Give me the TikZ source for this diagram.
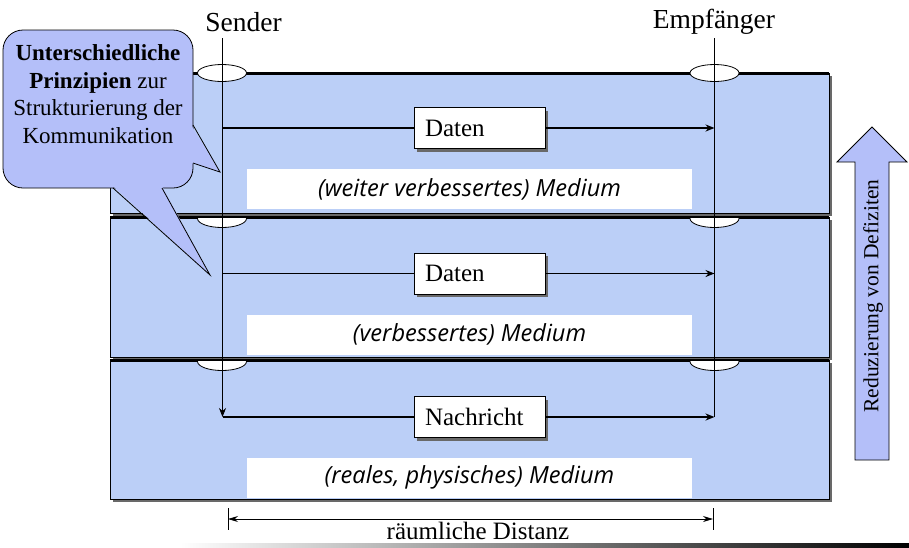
\documentclass[tikz,border=0pt]{standalone}
\usepackage{fontspec}
\setmainfont{Liberation Serif}
\newfontfamily\medfont{Open Sans}
\usetikzlibrary{arrows.meta,shadows}
\definecolor{layerblue}{RGB}{187,207,247}
\definecolor{callblue}{RGB}{180,191,249}
\definecolor{shadowgray}{RGB}{105,105,105}
\tikzset{
  layerbox/.style={draw=black, line width=0.8pt, fill=layerblue},
  layershadow/.style={fill=shadowgray},
  msgbox/.style={draw=black, line width=0.8pt, fill=white, minimum height=41pt,
    text width=109pt, inner xsep=11pt, inner ysep=0pt, align=left,
    font=\fontsize{25}{30}\selectfont,
    drop shadow={shadow xshift=3pt, shadow yshift=-3pt, fill=shadowgray, opacity=1}},
  medbox/.style={fill=white, minimum width=445pt, minimum height=40pt, inner sep=0pt,
    font=\medfont\itshape\fontsize{23.6}{28}\selectfont},
  flow/.style={line width=1.8pt},
  flowtip/.style={-{Stealth[length=9pt,width=7pt]}},
  port/.style={draw=black, line width=0.8pt, fill=white},
  titletext/.style={font=\fontsize{27.5}{32}\selectfont, inner sep=0pt},
  callout/.style={draw=black, line width=0.8pt, fill=callblue}
}
\begin{document}
\begin{tikzpicture}[x=1pt,y=-1pt]
\useasboundingbox (0,0) rectangle (909,547);

% layers
\foreach \t/\b in {73/213, 217/357, 360/499}{
  \fill[layershadow] (113,\t+3) rectangle (832,\b+3);
  \draw[layerbox] (110,\t) rectangle (829,\b);
  \draw[line width=3pt] (110,\t) -- (829,\t);
}
% ports (ellipses)
\draw[port] (222,73) ellipse [x radius=24.5pt, y radius=8.5pt];
\draw[port] (714.5,73) ellipse [x radius=24.5pt, y radius=8.5pt];
\foreach \t in {218.5, 361.5}{
  \begin{scope}
    \clip (180,\t) rectangle (760,\t+20);
    \draw[port] (222,\t) ellipse [x radius=24.5pt, y radius=9pt];
    \draw[port] (714.5,\t) ellipse [x radius=24.5pt, y radius=9pt];
  \end{scope}
}

% medium boxes
\node[medbox] (m1) at (469.5,189) {(weiter verbessertes) Medium};
\node[medbox] (m2) at (469.5,334.5) {(verbessertes) Medium};
\node[medbox] (m3) at (469.5,477.5) {(reales, physisches) Medium};

% sender / receiver
\node[titletext] (snd) at (243.5,22) {Sender};
\node[titletext] (rcv) at (714,22) {Empfänger};
\coordinate (s0) at (222.5,38);
\coordinate (s1) at (222.5,128);
\coordinate (s2) at (222.5,273.5);
\coordinate (s3) at (222.5,417);
\coordinate (r0) at (714.5,38);
\coordinate (r1) at (714.5,128);
\coordinate (r2) at (714.5,273.5);
\coordinate (r3) at (714.5,417);
\draw[line width=0.8pt] (r0) -- (r3);
\draw[line width=0.8pt, -{Stealth[length=9pt,width=7pt]}] (s0) -- (s3);

% message boxes
\node[msgbox] (d1) at (479.5,128) {Daten};
\node[msgbox] (d2) at (479.5,273.5) {Daten};
\node[msgbox] (d3) at (479.5,417) {Nachricht};
\foreach \i in {1,2,3}{
  \draw[flow] (s\i) -- (d\i.west);
  \draw[flow, flowtip] (d\i.east) -- (r\i);
}

% distance
\coordinate (dl) at (228,519);
\coordinate (dr) at (713,519);
\draw[line width=0.8pt] (228,508) -- (228,530);
\draw[line width=0.8pt] (713,508) -- (713,530);
\draw[line width=0.8pt, {Stealth[length=10pt,width=6pt]}-{Stealth[length=10pt,width=6pt]}] (dl) -- (dr);
\node[font=\fontsize{25}{30}\selectfont, inner sep=0pt] (dist) at (478,531) {räumliche Distanz};

% bottom gradient line
\shade[left color=white, right color=black] (180,543) rectangle (909,547);

% up arrow
\draw[callout] (855,460) -- (855,162) -- (837,162) -- (872,127) -- (907,162) -- (889,162) -- (889,460) -- cycle;
\node[rotate=90, font=\fontsize{21.5}{25}\selectfont, inner sep=0pt] (red) at (873,296) {Reduzierung von Defiziten};

% callout
\draw[callout, rounded corners=20pt] (3,30) rectangle (193,188);
\fill[callblue] (191,125) -- (220,172) -- (191,163) -- cycle;
\fill[callblue] (113,186) -- (210,275) -- (162,186) -- cycle;
\draw[line width=0.8pt] (193,125) -- (220,172) -- (193,163);
\draw[line width=0.8pt] (113,188) -- (210,275) -- (162,188);
\node[align=center, font=\fontsize{23}{27.5}\selectfont, inner sep=0pt] (cl) at (98,94)
  {\textbf{Unterschiedliche}\\\textbf{Prinzipien} zur\\Strukturierung der\\Kommunikation};
\end{tikzpicture}
\end{document}
